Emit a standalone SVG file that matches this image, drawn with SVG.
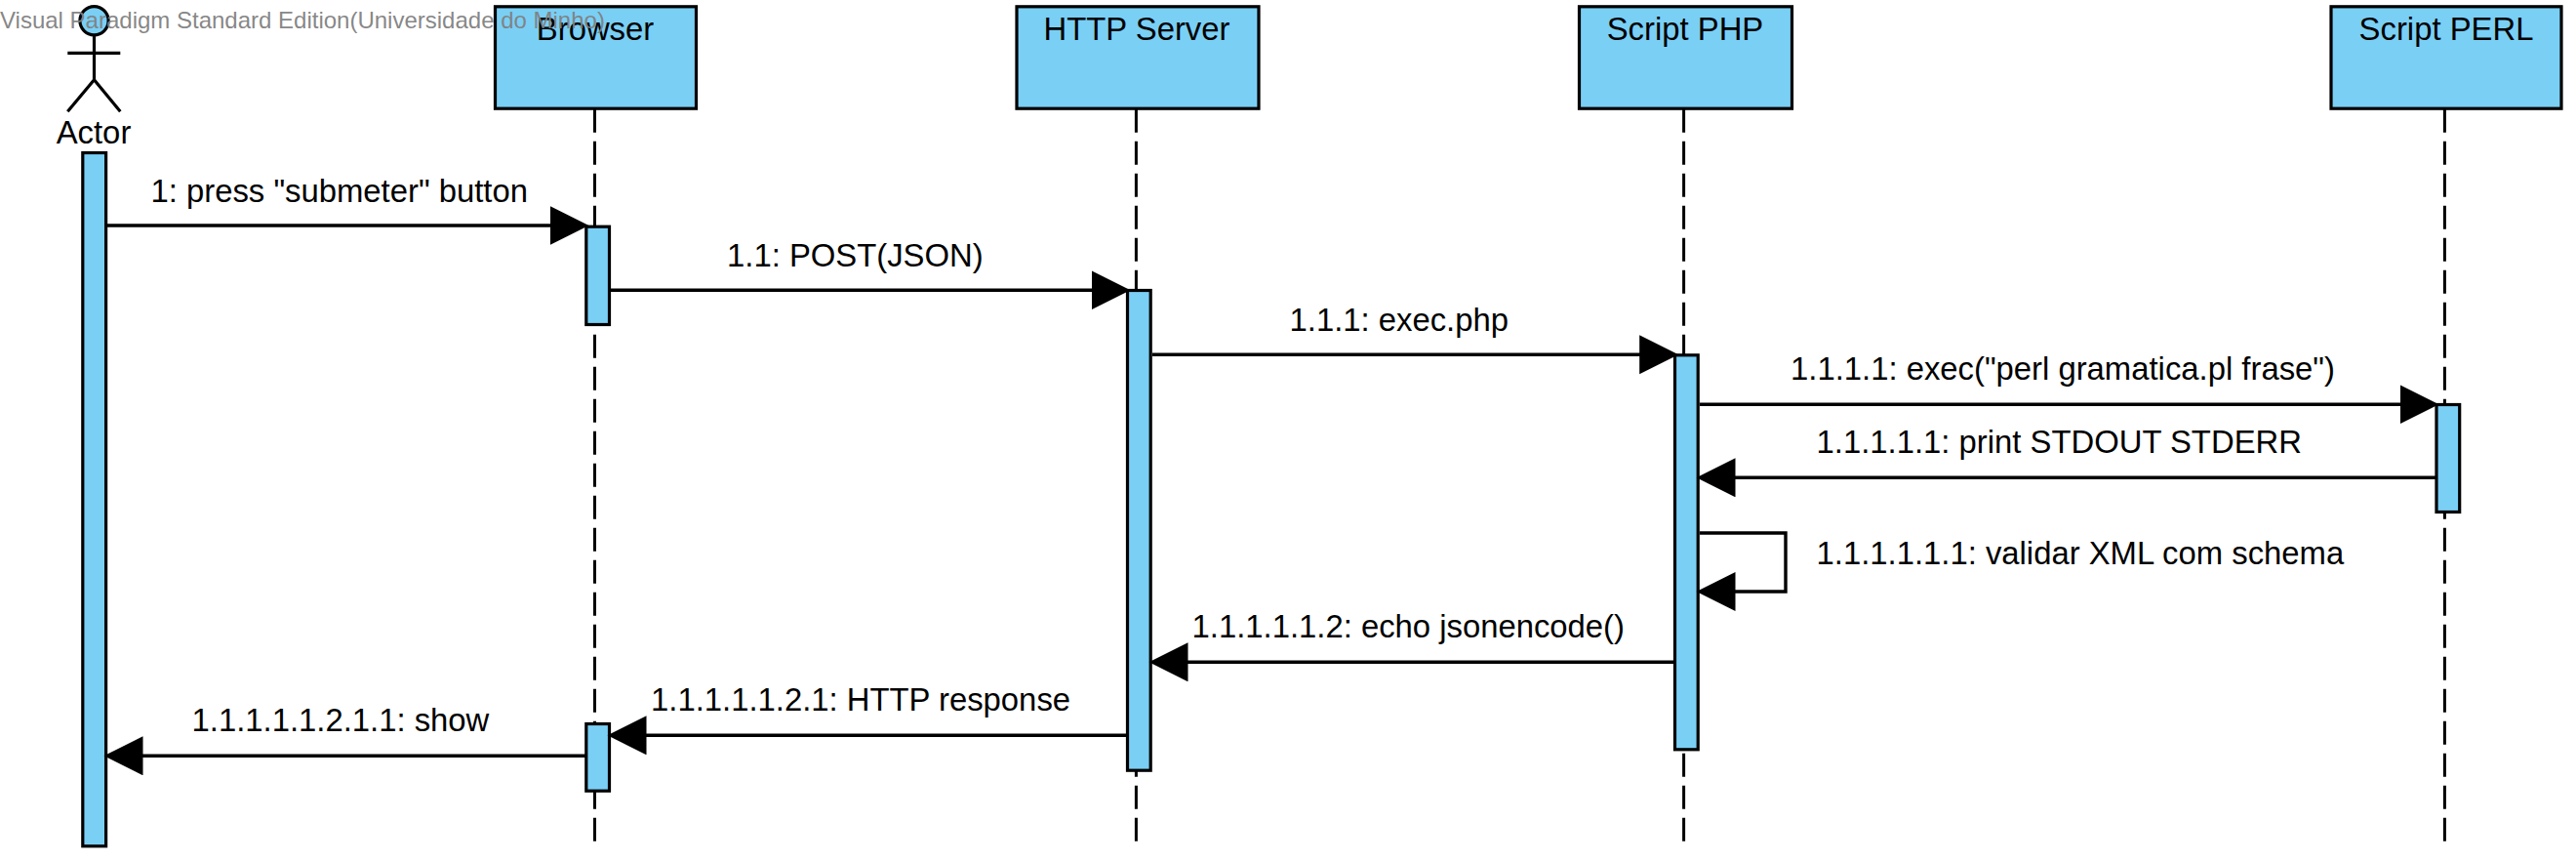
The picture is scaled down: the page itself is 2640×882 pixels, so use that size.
<svg xmlns="http://www.w3.org/2000/svg" width="2640" height="882" viewBox="0 0 2640 882">
<style>
text{font-family:"Liberation Sans",Arial,sans-serif;font-size:32.85px;fill:#000}
.c{text-anchor:middle}
.box,.act{fill:#7acff5;stroke:#000;stroke-width:3.2}
.life{stroke:#000;stroke-width:3;stroke-dasharray:24 9;fill:none}
.fig{stroke:#000;stroke-width:3.2;fill:none}
.msg{stroke:#000;stroke-width:3.4;fill:none;marker-end:url(#head)}
.wm{font-size:24px;fill:#808080;fill-opacity:.95}
</style>
<defs>
<marker id="head" markerUnits="userSpaceOnUse" markerWidth="42" markerHeight="41" refX="2" refY="20" orient="auto">
<path d="M0,0L40,20L0,40z" fill="#000"/>
</marker>
</defs>
<rect width="2640" height="882" fill="#fff"/>
<g id="actor">
<rect class="act" x="84.8" y="156.5" width="23.8" height="710.3"/>
<circle cx="96.5" cy="21.2" r="14.6" fill="#7acff5" stroke="#000" stroke-width="3.2"/>
<path class="fig" d="M96.5,36V81.7M69.3,54.3H123.3M69.3,114.3L96.5,81.7L123.3,114.3"/>
<text class="c" x="96" y="146.5">Actor</text>
</g>
<g id="browser">
<path class="life" d="M609.5,111.7V862"/>
<rect class="box" x="507.5" y="6.8" width="206" height="104.4"/>
<rect class="act" x="600.8" y="232.2" width="23.7" height="100.3"/>
<rect class="act" x="600.8" y="741.5" width="23.7" height="68.7"/>
<text class="c" x="610" y="41">Browser</text>
</g>
<g id="http-server">
<path class="life" d="M1164.4,111.7V862"/>
<rect class="box" x="1042" y="6.8" width="248" height="104.4"/>
<rect class="act" x="1155.5" y="297.5" width="23.7" height="491.7"/>
<text class="c" x="1165" y="41">HTTP Server</text>
</g>
<g id="script-php">
<path class="life" d="M1725.6,111.7V862"/>
<rect class="box" x="1618.5" y="6.8" width="218" height="104.4"/>
<rect class="act" x="1716.5" y="363.8" width="23.7" height="404"/>
<text class="c" x="1727" y="41">Script PHP</text>
</g>
<g id="script-perl">
<path class="life" d="M2505.4,111.7V862"/>
<rect class="box" x="2389" y="6.8" width="236" height="104.4"/>
<rect class="act" x="2497" y="414.5" width="23.7" height="110"/>
<text class="c" x="2507" y="41">Script PERL</text>
</g>
<g id="connectors">
<path class="msg" d="M110,231H565.5"/>
<path class="msg" d="M626,297.3H1120.5"/>
<path class="msg" d="M1181,363.3H1682.2"/>
<path class="msg" d="M1742,414.3H2461.5"/>
<path class="msg" d="M2496,489.3H1776.5"/>
<path class="msg" d="M1742,546H1830V606H1776.5"/>
<path class="msg" d="M1716,678.3H1215.5"/>
<path class="msg" d="M1155,753.3H660.5"/>
<path class="msg" d="M600,774.3H144.5"/>
<text x="154.5" y="206.7">1: press "submeter" button</text>
<text x="745" y="272.7">1.1: POST(JSON)</text>
<text x="1321.5" y="338.7">1.1.1: exec.php</text>
<text x="1835" y="389.3">1.1.1.1: exec("perl gramatica.pl frase")</text>
<text x="1861.5" y="464">1.1.1.1.1: print STDOUT STDERR</text>
<text x="1861.5" y="578">1.1.1.1.1.1: validar XML com schema</text>
<text x="1221.5" y="653.3">1.1.1.1.1.2: echo jsonencode()</text>
<text x="667" y="728.3">1.1.1.1.1.2.1: HTTP response</text>
<text x="196.5" y="749">1.1.1.1.1.2.1.1: show</text>
</g>
<text class="wm" x="0" y="29">Visual Paradigm Standard Edition(Universidade do Minho)</text>
</svg>
